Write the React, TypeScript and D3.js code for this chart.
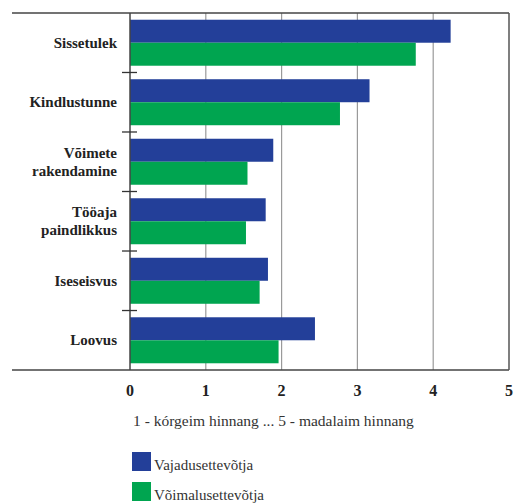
import React, { useEffect, useRef } from 'react';
import * as d3 from 'd3';

const categories = [
  ['Sissetulek'],
  ['Kindlustunne'],
  ['Võimete', 'rakendamine'],
  ['Tööaja', 'paindlikkus'],
  ['Iseseisvus'],
  ['Loovus']
];
const vajadus = [4.23, 3.16, 1.89, 1.79, 1.82, 2.44];
const voimalus = [3.77, 2.77, 1.55, 1.53, 1.71, 1.96];
const seriesNames = ['Vajadusettevõtja', 'Võimalusettevõtja'];
const colors = ['#233f99', '#00a550'];
const ticks = [0, 1, 2, 3, 4, 5];
const axisTitle = '1 - kórgeim hinnang ... 5 - madalaim hinnang';

const W = 514;
const H = 504;
const FONT = "'Liberation Serif', 'DejaVu Serif', Times, serif";

export default function App () {
  const ref = useRef<SVGSVGElement>(null);

  useEffect(() => {
    const svg = d3.select(ref.current);
    svg.selectAll('*').remove();

    const left = 130, right = 509, top = 13, bottom = 370;
    const x = d3.scaleLinear().domain([0, 5]).range([left, right]);
    const y = d3.scaleBand<number>()
      .domain(d3.range(categories.length))
      .range([top, bottom])
      .paddingInner(0.227)
      .paddingOuter(0.113);
    const inner = d3.scaleBand<number>()
      .domain([0, 1])
      .range([0, y.bandwidth()]);

    // grid
    svg.append('g')
      .selectAll('line')
      .data(ticks.slice(1, -1))
      .enter()
      .append('line')
      .attr('x1', d => x(d)).attr('x2', d => x(d))
      .attr('y1', top).attr('y2', bottom)
      .attr('stroke', '#9a9a9a')
      .attr('stroke-width', 1.2);

    // bars
    const series = [vajadus, voimalus];
    series.forEach((vals, s) => {
      svg.append('g')
        .selectAll('rect')
        .data(vals)
        .enter()
        .append('rect')
        .attr('x', x(0))
        .attr('y', (d, i) => (y(i) as number) + (inner(s) as number))
        .attr('width', d => x(d) - x(0))
        .attr('height', inner.bandwidth())
        .attr('fill', colors[s]);
    });

    // frame lines
    svg.append('line')
      .attr('x1', 12).attr('x2', right).attr('y1', top).attr('y2', top)
      .attr('stroke', '#444').attr('stroke-width', 1.5);
    svg.append('line')
      .attr('x1', 12).attr('x2', right).attr('y1', bottom).attr('y2', bottom)
      .attr('stroke', '#444').attr('stroke-width', 1.5);
    svg.append('line')
      .attr('x1', right).attr('x2', right).attr('y1', top).attr('y2', bottom)
      .attr('stroke', '#555').attr('stroke-width', 1.5);
    svg.append('line')
      .attr('x1', left).attr('x2', left).attr('y1', top).attr('y2', bottom)
      .attr('stroke', '#444').attr('stroke-width', 1.5);

    // separator ticks on category axis
    svg.append('g')
      .selectAll('line')
      .data(d3.range(1, categories.length))
      .enter()
      .append('line')
      .attr('x1', left - 8).attr('x2', left + 7)
      .attr('y1', d => (y(d) as number) - y.step() * y.paddingInner() / 2)
      .attr('y2', d => (y(d) as number) - y.step() * y.paddingInner() / 2)
      .attr('stroke', '#333').attr('stroke-width', 1.3);

    // category labels
    const labels = svg.append('g')
      .selectAll('text')
      .data(categories)
      .enter()
      .append('text')
      .attr('text-anchor', 'end')
      .style('font-family', FONT)
      .style('font-weight', 'bold')
      .style('font-size', '15px')
      .attr('fill', '#222')
      .attr('transform', (d, i) => {
        const cy = (y(i) as number) + y.bandwidth() / 2;
        return `translate(117,${cy + 5 - (d.length - 1) * 9})`;
      });
    labels.selectAll('tspan')
      .data(d => d)
      .enter()
      .append('tspan')
      .attr('x', 0)
      .attr('dy', (d, i) => (i === 0 ? 0 : 18))
      .text(d => d);

    // x tick labels
    svg.append('g')
      .selectAll('text')
      .data(ticks)
      .enter()
      .append('text')
      .attr('x', d => x(d))
      .attr('y', 396)
      .attr('text-anchor', 'middle')
      .style('font-family', FONT)
      .style('font-weight', 'bold')
      .style('font-size', '16px')
      .attr('fill', '#222')
      .text(d => d);

    svg.append('text')
      .attr('x', 133)
      .attr('y', 426)
      .style('font-family', FONT)
      .style('font-size', '15.5px')
      .attr('fill', '#333')
      .text(axisTitle);

    // legend
    const legend = svg.append('g')
      .selectAll('g')
      .data(seriesNames)
      .enter()
      .append('g')
      .attr('transform', (d, i) => `translate(132,${452 + i * 30})`);
    legend.append('rect')
      .attr('width', 19).attr('height', 19)
      .attr('fill', (d, i) => colors[i]);
    legend.append('text')
      .attr('x', 22).attr('y', 18)
      .style('font-family', FONT)
      .style('font-size', '15px')
      .attr('fill', '#333')
      .text(d => d);
  }, []);

  return (
    <svg
      ref={ref}
      width={W}
      height={H}
      style={{ position: 'absolute', left: 0, top: 0 }}
    />
  );
}
